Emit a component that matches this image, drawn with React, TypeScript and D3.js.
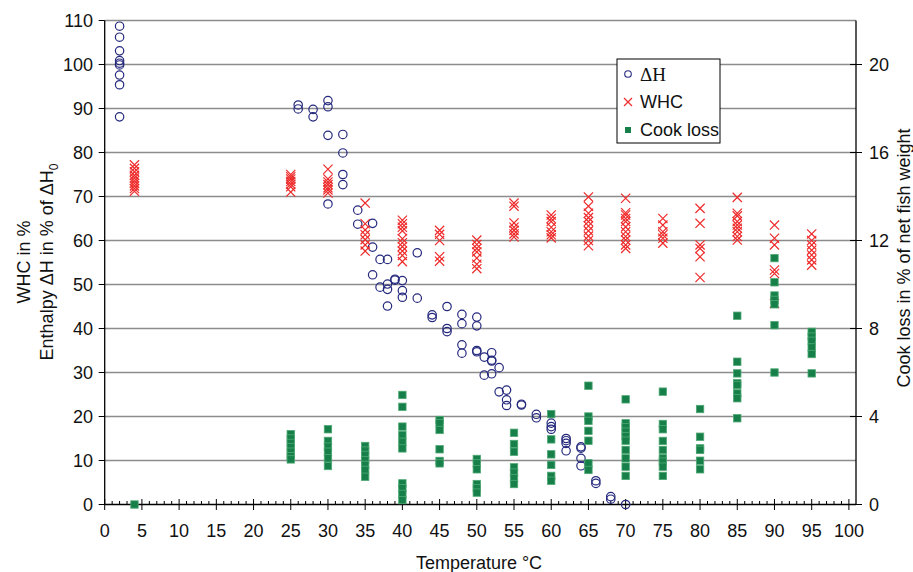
import React from 'react';
import * as d3 from 'd3';

// Enthalpy ΔH in % of ΔH0, grouped by temperature (°C)
const enthalpyData: [number, number[]][] = [
  [2, [108.7, 106.2, 103.1, 100.9, 100.3, 99.9, 97.6, 95.4, 88.1]],
  [26, [90.8, 89.9]],
  [28, [89.8, 88.1]],
  [30, [91.8, 90.4, 83.9, 68.3]],
  [32, [84.1, 79.9, 75.0, 72.7]],
  [34, [66.9, 63.7]],
  [36, [63.9, 58.5, 52.2]],
  [37, [55.7, 49.4]],
  [38, [55.7, 50.1, 48.9, 45.1]],
  [39, [51.2, 51.0]],
  [40, [50.9, 48.6, 47.1]],
  [42, [57.2, 46.9]],
  [44, [43.1, 42.5]],
  [46, [45.0, 40.0, 39.3]],
  [48, [43.2, 41.1, 36.3, 34.4]],
  [50, [42.6, 40.6, 35.0, 34.7]],
  [51, [33.5, 29.4]],
  [52, [34.5, 32.8, 32.6, 29.7]],
  [53, [31.1, 25.6]],
  [54, [26.0, 23.8, 22.5]],
  [56, [22.8, 22.6]],
  [58, [20.5, 19.7]],
  [60, [18.5, 17.7, 17.1]],
  [62, [15.0, 14.5, 13.9, 12.2]],
  [64, [13.1, 12.8, 10.5, 8.8]],
  [66, [5.4, 4.8]],
  [68, [1.8, 1.2]],
  [70, [0]],
];

// Water holding capacity in %, grouped by temperature (°C)
const whcData: [number, number[]][] = [
  [4, [77.2, 76.4, 75.6, 74.8, 74.2, 73.6, 73.0, 72.4, 71.8, 71.2]],
  [25, [75.0, 74.5, 74.0, 73.4, 72.8, 72.2, 71.0]],
  [30, [76.2, 74.0, 73.3, 72.7, 72.0, 71.5, 70.8]],
  [35, [68.5, 63.8, 62.4, 61.3, 60.2, 59.0, 57.6]],
  [40, [64.6, 63.8, 63.0, 62.2, 60.4, 59.5, 58.6, 57.6, 56.6, 55.2]],
  [45, [62.3, 61.4, 60.0, 56.3, 55.3]],
  [50, [60.1, 59.1, 58.2, 57.4, 56.0, 54.6, 53.6]],
  [55, [68.5, 67.8, 64.0, 63.0, 62.3, 61.5, 60.8]],
  [60, [65.8, 65.0, 64.3, 63.0, 62.0, 61.3, 60.6]],
  [65, [69.9, 67.8, 66.2, 65.2, 64.3, 63.3, 62.2, 61.0, 60.0, 58.8]],
  [70, [69.6, 66.3, 65.8, 65.0, 64.3, 63.1, 62.0, 60.9, 60.1, 59.0, 58.2]],
  [75, [65.0, 63.5, 62.0, 61.3, 60.5, 59.4]],
  [80, [67.3, 63.9, 59.0, 58.2, 56.3, 51.6]],
  [85, [69.8, 66.2, 65.6, 64.3, 63.5, 62.8, 62.0, 60.9, 60.1]],
  [90, [63.5, 60.5, 59.0, 53.3, 52.5, 45.7]],
  [95, [61.5, 60.0, 59.0, 57.8, 56.7, 55.6, 54.4]],
];

// Cook loss in % of net fish weight (secondary axis), grouped by temperature (°C)
const cookLossData: [number, number[]][] = [
  [4, [0]],
  [25, [3.2, 3.0, 2.8, 2.6, 2.4, 2.2, 2.05]],
  [30, [3.42, 2.89, 2.63, 2.4, 2.1, 1.75]],
  [35, [2.66, 2.45, 2.25, 2.02, 1.8, 1.57, 1.26]],
  [40, [4.98, 4.44, 3.54, 3.16, 2.85, 2.55, 0.96, 0.74, 0.48, 0.2]],
  [45, [3.84, 3.7, 3.39, 2.51, 1.98, 1.87]],
  [50, [2.07, 1.87, 1.6, 0.93, 0.74, 0.54]],
  [55, [3.26, 2.75, 2.4, 1.69, 1.45, 1.19, 0.93]],
  [60, [4.11, 2.96, 2.28, 1.8, 1.3, 1.08]],
  [65, [5.4, 4.0, 3.8, 3.35, 2.9, 1.87, 1.57]],
  [70, [4.78, 3.69, 3.51, 3.31, 3.11, 2.9, 2.48, 2.1, 1.72, 1.3]],
  [75, [5.13, 3.66, 3.42, 2.89, 2.48, 2.1, 1.95, 1.72, 1.3]],
  [80, [4.34, 3.08, 2.55, 2.48, 1.99, 1.6]],
  [85, [8.58, 6.49, 5.96, 5.51, 5.43, 5.05, 4.83, 3.92]],
  [90, [11.2, 10.1, 9.5, 9.3, 9.1, 8.15, 6.0]],
  [95, [7.85, 7.63, 7.44, 7.14, 6.84, 5.96]],
];

const xTicks = d3.range(0, 101, 5);
const xMinorTicks = d3.range(0, 101, 1).filter((v) => v % 5 !== 0);
const leftTicks = d3.range(0, 111, 10);
const rightTicks = d3.range(0, 21, 4);

const W = 913;
const H = 572;
const FONT = "Arial, 'Liberation Sans', Helvetica, sans-serif";
const SERIF = "'Times New Roman', 'Liberation Serif', serif";
const NAVY = '#25297d';
const RED = '#ee2a2a';
const GREEN = '#17804a';
const GRID = '#8c8c8c';

const flatten = (groups: [number, number[]][]) =>
  groups.flatMap(([t, vals]) => vals.map((v) => ({ t, v })));

export default function App() {
  const plotLeft = 104.7;
  const plotRight = 856;
  const plotTop = 20.5;
  const plotBottom = 504.5;

  const x = d3.scaleLinear().domain([0, 100]).range([plotLeft, 848.9]);
  const yL = d3.scaleLinear().domain([0, 110]).range([plotBottom, plotTop]);
  const yR = d3.scaleLinear().domain([0, 22]).range([plotBottom, plotTop]);

  const enthalpy = flatten(enthalpyData);
  const whc = flatten(whcData);
  const cook = flatten(cookLossData);

  const xs = 4.6; // half-size of the WHC cross
  const sq = 7.4; // cook loss square size

  return (
    <svg
      width={W}
      height={H}
      viewBox={`0 0 ${W} ${H}`}
      style={{ position: 'absolute', left: 0, top: 0, background: '#fff' }}
      fontFamily={FONT}
    >
      <rect x={0} y={0} width={W} height={H} fill="#fff" />

      {/* horizontal gridlines */}
      {leftTicks
        .filter((t) => t > 0)
        .map((t) => (
          <line
            key={`g${t}`}
            x1={plotLeft}
            x2={plotRight}
            y1={yL(t)}
            y2={yL(t)}
            stroke={GRID}
            strokeWidth={1.3}
          />
        ))}

      {/* axes lines */}
      <line x1={plotLeft} x2={plotLeft} y1={plotTop} y2={plotBottom} stroke="#000" strokeWidth={1.3} />
      <line x1={plotRight} x2={plotRight} y1={plotTop} y2={plotBottom} stroke="#000" strokeWidth={1.3} />
      <line x1={plotLeft} x2={plotRight} y1={plotBottom} y2={plotBottom} stroke="#000" strokeWidth={1.3} />

      {/* left axis ticks and labels */}
      {leftTicks.map((t) => (
        <g key={`l${t}`}>
          <line x1={plotLeft - 6} x2={plotLeft} y1={yL(t)} y2={yL(t)} stroke="#000" strokeWidth={1} />
          <text x={93} y={yL(t)} dy="0.35em" textAnchor="end" fontSize={18} fill="#111">
            {t}
          </text>
        </g>
      ))}

      {/* right axis ticks and labels */}
      {rightTicks.map((t) => (
        <g key={`r${t}`}>
          <line x1={plotRight - 6} x2={plotRight + 6} y1={yR(t)} y2={yR(t)} stroke="#000" strokeWidth={1} />
          <text x={869} y={yR(t)} dy="0.35em" textAnchor="start" fontSize={18} fill="#111">
            {t}
          </text>
        </g>
      ))}

      {/* bottom axis ticks and labels */}
      {xMinorTicks.map((t) => (
        <line key={`m${t}`} x1={x(t)} x2={x(t)} y1={plotBottom - 3.5} y2={plotBottom} stroke="#000" strokeWidth={1} />
      ))}
      {xTicks.map((t) => (
        <g key={`x${t}`}>
          <line x1={x(t)} x2={x(t)} y1={plotBottom - 5.5} y2={plotBottom + 5.5} stroke="#000" strokeWidth={1} />
          <text x={x(t)} y={531} dy="0.35em" textAnchor="middle" fontSize={18} fill="#111">
            {t}
          </text>
        </g>
      ))}

      {/* axis titles */}
      <text x={479} y={563} dy="0.35em" textAnchor="middle" fontSize={18} fill="#111">
        Temperature °C
      </text>
      <text
        transform={`translate(24, 262) rotate(-90)`}
        dy="0.35em"
        textAnchor="middle"
        fontSize={18}
        fill="#111"
      >
        WHC in %
      </text>
      <text
        transform={`translate(47, 262) rotate(-90)`}
        dy="0.35em"
        textAnchor="middle"
        fontSize={18}
        fill="#111"
      >
        Enthalpy ΔH in % of ΔH
        <tspan fontSize={12} dy="0.35em">0</tspan>
      </text>
      <text
        transform={`translate(904, 258) rotate(-90)`}
        dy="0.35em"
        textAnchor="middle"
        fontSize={18}
        fill="#111"
      >
        Cook loss in % of net fish weight
      </text>

      {/* ΔH series */}
      <g>
        {enthalpy.map((d, i) => (
          <circle key={`e${i}`} cx={x(d.t)} cy={yL(d.v)} r={4.2} fill="none" stroke={NAVY} strokeWidth={1.2} />
        ))}
      </g>

      {/* WHC series */}
      <g>
        {whc.map((d, i) => {
          const cx = x(d.t);
          const cy = yL(d.v);
          return (
            <path
              key={`w${i}`}
              d={`M${cx - xs},${cy - xs}L${cx + xs},${cy + xs}M${cx - xs},${cy + xs}L${cx + xs},${cy - xs}`}
              stroke={RED}
              strokeWidth={1.2}
              fill="none"
            />
          );
        })}
      </g>

      {/* Cook loss series */}
      <g>
        {cook.map((d, i) => (
          <rect
            key={`c${i}`}
            x={x(d.t) - sq / 2}
            y={yR(d.v) - sq / 2}
            width={sq}
            height={sq}
            fill={GREEN}
            stroke="#4fa873"
            strokeWidth={0.8}
          />
        ))}
      </g>

      {/* legend */}
      <g>
        <rect x={617} y={59} width={103} height={84} fill="#fff" stroke="#000" strokeWidth={1} />
        <circle cx={628} cy={74} r={3.3} fill="none" stroke={NAVY} strokeWidth={1.1} />
        <text x={640} y={74} dy="0.35em" fontSize={19} fontFamily={SERIF} fill="#111">
          ΔH
        </text>
        <path d="M624,98L632,106M624,106L632,98" stroke={RED} strokeWidth={1.2} />
        <text x={640} y={102} dy="0.35em" fontSize={18} fill="#111">
          WHC
        </text>
        <rect x={625} y={127} width={6} height={6} fill={GREEN} />
        <text x={640} y={130} dy="0.35em" fontSize={18} fill="#111">
          Cook loss
        </text>
      </g>
    </svg>
  );
}
